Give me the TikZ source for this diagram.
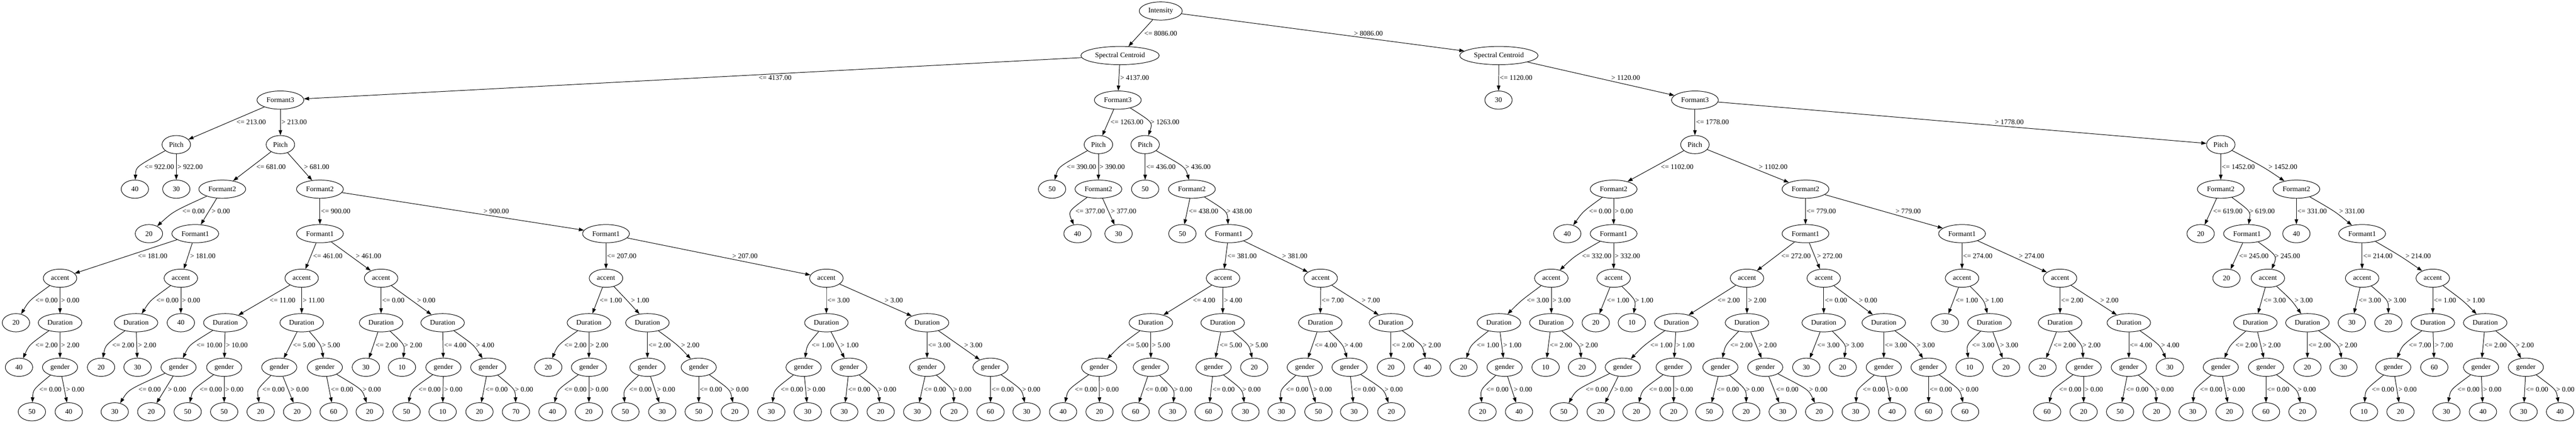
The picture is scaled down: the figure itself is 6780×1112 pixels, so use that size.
\documentclass[tikz,border=0pt]{standalone}
\usepackage{fontspec}
\setmainfont{Liberation Serif}
\usetikzlibrary{shapes.geometric,arrows.meta}
\newcommand\gvlabfont{\fontsize{14}{16}\selectfont}
\tikzset{
  nd/.style={draw, ellipse, line width=1pt, minimum width=54pt, minimum height=36pt,
    inner xsep=5.5pt, inner ysep=2pt, font=\gvlabfont},
  edge/.style={line width=1pt, -{Triangle[length=10pt,width=7pt]}},
  elab/.style={anchor=west, inner sep=0.5pt, font=\gvlabfont},
}
\newcommand\mkN[4]{%
  \expandafter\xdef\csname px@#1\endcsname{#2}%
  \expandafter\xdef\csname pl@#1\endcsname{#3}%
  \node[nd] (#1) at (#2,{29+117.2*#3}) {#4};}
% #1 parent, #2 left child, #3 right child, #4 threshold
\newcommand\mkS[4]{%
  \edef\gvxP{\csname px@#1\endcsname}%
  \edef\gvxA{\csname px@#2\endcsname}%
  \edef\gvxB{\csname px@#3\endcsname}%
  \pgfmathsetmacro\gvyM{29+117.2*\csname pl@#1\endcsname+58.6}%
  \pgfmathsetmacro\gvk{floor(log10(max(#4,1))+0.0001)+3}%
  \pgfmathsetmacro\gvwA{(1628+500*\gvk)*0.018667}%
  \pgfmathsetmacro\gvdA{abs(\gvxA-\gvxP)}%
  \pgfmathsetmacro\gvdB{abs(\gvxB-\gvxP)}%
  \pgfmathsetmacro\gvsA{\gvdA/117.2*8}%
  \pgfmathsetmacro\gvsB{\gvdB/117.2*8}%
  \pgfmathsetmacro\gvcA{(\gvxP+\gvxA)/2}%
  \pgfmathsetmacro\gvcB{(\gvxP+\gvxB)/2}%
  \pgfmathsetmacro\gvov{\gvcA+\gvsA+2+\gvwA+7-(\gvcB-\gvsB)}%
  \pgfmathsetmacro\gvoo{max(\gvov,0)}%
  \ifdim\gvdA pt<\gvdB pt
    \let\gvmA\gvcA
    \pgfmathsetmacro\gvmB{\gvcB+\gvoo}%
  \else
    \pgfmathsetmacro\gvmA{\gvcA-\gvoo}%
    \let\gvmB\gvcB
  \fi
  \pgfmathsetmacro\gvqA{\gvmA+(\gvmA-\gvcA)/3}%
  \pgfmathsetmacro\gvqB{\gvmB+(\gvmB-\gvcB)/3}%
  \pgfmathsetmacro\gvlA{\gvmA+\gvsA+2}%
  \pgfmathsetmacro\gvlB{\gvmB+\gvsB+2}%
  \draw[edge] (#1) .. controls (\gvqA,\gvyM) and (\gvqA,\gvyM) .. (#2);
  \node[elab] at (\gvlA,\gvyM) {<= #4};
  \draw[edge] (#1) .. controls (\gvqB,\gvyM) and (\gvqB,\gvyM) .. (#3);
  \node[elab] at (\gvlB,\gvyM) {> #4};}
\newcommand\mkG[3]{\mkS{#1}{#2}{#3}{0.00}}
\begin{document}
\begin{tikzpicture}[x=0.75pt,y=-0.75pt]
\useasboundingbox (0,0) rectangle (6780,1112);
% level 0-3
\mkN{n0}{3055}{0}{Intensity}
\mkN{n1}{2948}{1}{Spectral Centroid}
\mkN{n2}{3945}{1}{Spectral Centroid}
\mkN{n3}{738}{2}{Formant3}
\mkN{n4}{2942}{2}{Formant3}
\mkN{n5}{3944}{2}{30}
\mkN{n6}{4461}{2}{Formant3}
\mkN{n7}{464}{3}{Pitch}
\mkN{n8}{738}{3}{Pitch}
\mkN{n9}{2891}{3}{Pitch}
\mkN{n10}{3014}{3}{Pitch}
\mkN{n11}{4461}{3}{Pitch}
\mkN{n12}{5845}{3}{Pitch}
% level 4
\mkN{n13}{355}{4}{40}
\mkN{n14}{464}{4}{30}
\mkN{n15}{585}{4}{Formant2}
\mkN{n16}{842}{4}{Formant2}
\mkN{n17}{2769}{4}{50}
\mkN{n18}{2891}{4}{Formant2}
\mkN{n19}{3014}{4}{50}
\mkN{n20}{3137}{4}{Formant2}
\mkN{n21}{4247}{4}{Formant2}
\mkN{n22}{4752}{4}{Formant2}
\mkN{n23}{5845}{4}{Formant2}
\mkN{n24}{6044}{4}{Formant2}
% level 5
\mkN{n25}{392}{5}{20}
\mkN{n26}{514}{5}{Formant1}
\mkN{n27}{842}{5}{Formant1}
\mkN{n28}{1595}{5}{Formant1}
\mkN{n29}{2836}{5}{40}
\mkN{n30}{2944}{5}{30}
\mkN{n31}{3112}{5}{50}
\mkN{n32}{3234}{5}{Formant1}
\mkN{n33}{4125}{5}{40}
\mkN{n34}{4247}{5}{Formant1}
\mkN{n35}{4752}{5}{Formant1}
\mkN{n36}{5164}{5}{Formant1}
\mkN{n37}{5792}{5}{20}
\mkN{n38}{5914}{5}{Formant1}
\mkN{n39}{6044}{5}{40}
\mkN{n40}{6217}{5}{Formant1}
% level 6
\mkN{n41}{158}{6}{accent}
\mkN{n42}{476}{6}{accent}
\mkN{n43}{794}{6}{accent}
\mkN{n44}{1003}{6}{accent}
\mkN{n45}{1595}{6}{accent}
\mkN{n46}{2175}{6}{accent}
\mkN{n47}{3219}{6}{accent}
\mkN{n48}{3476}{6}{accent}
\mkN{n49}{4083}{6}{accent}
\mkN{n50}{4247}{6}{accent}
\mkN{n51}{4598}{6}{accent}
\mkN{n52}{4800}{6}{accent}
\mkN{n53}{5164}{6}{accent}
\mkN{n54}{5422}{6}{accent}
\mkN{n55}{5860}{6}{20}
\mkN{n56}{5969}{6}{accent}
\mkN{n57}{6217}{6}{accent}
\mkN{n58}{6403}{6}{accent}
% level 7
\mkN{n59}{42}{7}{20}
\mkN{n60}{158}{7}{Duration}
\mkN{n61}{358}{7}{Duration}
\mkN{n62}{476}{7}{40}
\mkN{n63}{593}{7}{Duration}
\mkN{n64}{794}{7}{Duration}
\mkN{n65}{1003}{7}{Duration}
\mkN{n66}{1165}{7}{Duration}
\mkN{n67}{1550}{7}{Duration}
\mkN{n68}{1704}{7}{Duration}
\mkN{n69}{2175}{7}{Duration}
\mkN{n70}{2440}{7}{Duration}
\mkN{n71}{3029}{7}{Duration}
\mkN{n72}{3218}{7}{Duration}
\mkN{n73}{3475}{7}{Duration}
\mkN{n74}{3661}{7}{Duration}
\mkN{n75}{3945}{7}{Duration}
\mkN{n76}{4083}{7}{Duration}
\mkN{n77}{4200}{7}{20}
\mkN{n78}{4295}{7}{10}
\mkN{n79}{4412}{7}{Duration}
\mkN{n80}{4598}{7}{Duration}
\mkN{n81}{4800}{7}{Duration}
\mkN{n82}{4958}{7}{Duration}
\mkN{n83}{5119}{7}{30}
\mkN{n84}{5236}{7}{Duration}
\mkN{n85}{5422}{7}{Duration}
\mkN{n86}{5603}{7}{Duration}
\mkN{n87}{5936}{7}{Duration}
\mkN{n88}{6073}{7}{Duration}
\mkN{n89}{6190}{7}{30}
\mkN{n90}{6286}{7}{20}
\mkN{n91}{6403}{7}{Duration}
\mkN{n92}{6541}{7}{Duration}
% level 8
\mkN{n93}{50}{8}{40}
\mkN{n94}{158}{8}{gender}
\mkN{n95}{266}{8}{20}
\mkN{n96}{362}{8}{30}
\mkN{n97}{470}{8}{gender}
\mkN{n98}{590}{8}{gender}
\mkN{n99}{735}{8}{gender}
\mkN{n100}{855}{8}{gender}
\mkN{n101}{963}{8}{30}
\mkN{n102}{1058}{8}{10}
\mkN{n103}{1167}{8}{gender}
\mkN{n104}{1285}{8}{gender}
\mkN{n105}{1443}{8}{20}
\mkN{n106}{1550}{8}{gender}
\mkN{n107}{1704}{8}{gender}
\mkN{n108}{1839}{8}{gender}
\mkN{n109}{2115}{8}{gender}
\mkN{n110}{2235}{8}{gender}
\mkN{n111}{2440}{8}{gender}
\mkN{n112}{2607}{8}{gender}
\mkN{n113}{2893}{8}{gender}
\mkN{n114}{3029}{8}{gender}
\mkN{n115}{3194}{8}{gender}
\mkN{n116}{3301}{8}{20}
\mkN{n117}{3434}{8}{gender}
\mkN{n118}{3552}{8}{gender}
\mkN{n119}{3661}{8}{20}
\mkN{n120}{3757}{8}{40}
\mkN{n121}{3852}{8}{20}
\mkN{n122}{3960}{8}{gender}
\mkN{n123}{4068}{8}{10}
\mkN{n124}{4164}{8}{20}
\mkN{n125}{4271}{8}{gender}
\mkN{n126}{4405}{8}{gender}
\mkN{n127}{4528}{8}{gender}
\mkN{n128}{4646}{8}{gender}
\mkN{n129}{4754}{8}{30}
\mkN{n130}{4850}{8}{20}
\mkN{n131}{4958}{8}{gender}
\mkN{n132}{5076}{8}{gender}
\mkN{n133}{5184}{8}{10}
\mkN{n134}{5280}{8}{20}
\mkN{n135}{5376}{8}{20}
\mkN{n136}{5484}{8}{gender}
\mkN{n137}{5603}{8}{gender}
\mkN{n138}{5711}{8}{30}
\mkN{n139}{5845}{8}{gender}
\mkN{n140}{5964}{8}{gender}
\mkN{n141}{6073}{8}{20}
\mkN{n142}{6168}{8}{30}
\mkN{n143}{6299}{8}{gender}
\mkN{n144}{6407}{8}{60}
\mkN{n145}{6530}{8}{gender}
\mkN{n146}{6648}{8}{gender}
% level 9
\mkN{n147}{84}{9}{50}
\mkN{n148}{181}{9}{40}
\mkN{n149}{302}{9}{30}
\mkN{n150}{398}{9}{20}
\mkN{n151}{494}{9}{50}
\mkN{n152}{590}{9}{50}
\mkN{n153}{686}{9}{20}
\mkN{n154}{782}{9}{20}
\mkN{n155}{878}{9}{60}
\mkN{n156}{973}{9}{20}
\mkN{n157}{1070}{9}{50}
\mkN{n158}{1165}{9}{10}
\mkN{n159}{1262}{9}{20}
\mkN{n160}{1358}{9}{70}
\mkN{n161}{1454}{9}{40}
\mkN{n162}{1550}{9}{20}
\mkN{n163}{1646}{9}{50}
\mkN{n164}{1743}{9}{30}
\mkN{n165}{1839}{9}{50}
\mkN{n166}{1934}{9}{20}
\mkN{n167}{2030}{9}{30}
\mkN{n168}{2126}{9}{30}
\mkN{n169}{2222}{9}{30}
\mkN{n170}{2318}{9}{20}
\mkN{n171}{2414}{9}{30}
\mkN{n172}{2511}{9}{20}
\mkN{n173}{2607}{9}{60}
\mkN{n174}{2702}{9}{30}
\mkN{n175}{2798}{9}{40}
\mkN{n176}{2894}{9}{20}
\mkN{n177}{2989}{9}{60}
\mkN{n178}{3086}{9}{30}
\mkN{n179}{3181}{9}{60}
\mkN{n180}{3278}{9}{30}
\mkN{n181}{3373}{9}{30}
\mkN{n182}{3470}{9}{50}
\mkN{n183}{3564}{9}{30}
\mkN{n184}{3662}{9}{20}
\mkN{n185}{3902}{9}{20}
\mkN{n186}{3998}{9}{40}
\mkN{n187}{4116}{9}{50}
\mkN{n188}{4213}{9}{20}
\mkN{n189}{4307}{9}{20}
\mkN{n190}{4405}{9}{20}
\mkN{n191}{4499}{9}{50}
\mkN{n192}{4596}{9}{20}
\mkN{n193}{4692}{9}{30}
\mkN{n194}{4788}{9}{20}
\mkN{n195}{4884}{9}{30}
\mkN{n196}{4980}{9}{40}
\mkN{n197}{5076}{9}{60}
\mkN{n198}{5172}{9}{60}
\mkN{n199}{5388}{9}{60}
\mkN{n200}{5484}{9}{20}
\mkN{n201}{5580}{9}{50}
\mkN{n202}{5676}{9}{20}
\mkN{n203}{5771}{9}{30}
\mkN{n204}{5868}{9}{20}
\mkN{n205}{5964}{9}{60}
\mkN{n206}{6060}{9}{20}
\mkN{n207}{6222}{9}{10}
\mkN{n208}{6318}{9}{20}
\mkN{n209}{6439}{9}{30}
\mkN{n210}{6535}{9}{40}
\mkN{n211}{6642}{9}{30}
\mkN{n212}{6738}{9}{40}
% edges
\mkS{n0}{n1}{n2}{8086.00}
\mkS{n1}{n3}{n4}{4137.00}
\mkS{n2}{n5}{n6}{1120.00}
\mkS{n3}{n7}{n8}{213.00}
\mkS{n4}{n9}{n10}{1263.00}
\mkS{n6}{n11}{n12}{1778.00}
\mkS{n7}{n13}{n14}{922.00}
\mkS{n8}{n15}{n16}{681.00}
\mkS{n9}{n17}{n18}{390.00}
\mkS{n10}{n19}{n20}{436.00}
\mkS{n11}{n21}{n22}{1102.00}
\mkS{n12}{n23}{n24}{1452.00}
\mkS{n15}{n25}{n26}{0.00}
\mkS{n16}{n27}{n28}{900.00}
\mkS{n18}{n29}{n30}{377.00}
\mkS{n20}{n31}{n32}{438.00}
\mkS{n21}{n33}{n34}{0.00}
\mkS{n22}{n35}{n36}{779.00}
\mkS{n23}{n37}{n38}{619.00}
\mkS{n24}{n39}{n40}{331.00}
\mkS{n26}{n41}{n42}{181.00}
\mkS{n27}{n43}{n44}{461.00}
\mkS{n28}{n45}{n46}{207.00}
\mkS{n32}{n47}{n48}{381.00}
\mkS{n34}{n49}{n50}{332.00}
\mkS{n35}{n51}{n52}{272.00}
\mkS{n36}{n53}{n54}{274.00}
\mkS{n38}{n55}{n56}{245.00}
\mkS{n40}{n57}{n58}{214.00}
\mkS{n41}{n59}{n60}{0.00}
\mkS{n42}{n61}{n62}{0.00}
\mkS{n43}{n63}{n64}{11.00}
\mkS{n44}{n65}{n66}{0.00}
\mkS{n45}{n67}{n68}{1.00}
\mkS{n46}{n69}{n70}{3.00}
\mkS{n47}{n71}{n72}{4.00}
\mkS{n48}{n73}{n74}{7.00}
\mkS{n49}{n75}{n76}{3.00}
\mkS{n50}{n77}{n78}{1.00}
\mkS{n51}{n79}{n80}{2.00}
\mkS{n52}{n81}{n82}{0.00}
\mkS{n53}{n83}{n84}{1.00}
\mkS{n54}{n85}{n86}{2.00}
\mkS{n56}{n87}{n88}{3.00}
\mkS{n57}{n89}{n90}{3.00}
\mkS{n58}{n91}{n92}{1.00}
\mkS{n60}{n93}{n94}{2.00}
\mkS{n61}{n95}{n96}{2.00}
\mkS{n63}{n97}{n98}{10.00}
\mkS{n64}{n99}{n100}{5.00}
\mkS{n65}{n101}{n102}{2.00}
\mkS{n66}{n103}{n104}{4.00}
\mkS{n67}{n105}{n106}{2.00}
\mkS{n68}{n107}{n108}{2.00}
\mkS{n69}{n109}{n110}{1.00}
\mkS{n70}{n111}{n112}{3.00}
\mkS{n71}{n113}{n114}{5.00}
\mkS{n72}{n115}{n116}{5.00}
\mkS{n73}{n117}{n118}{4.00}
\mkS{n74}{n119}{n120}{2.00}
\mkS{n75}{n121}{n122}{1.00}
\mkS{n76}{n123}{n124}{2.00}
\mkS{n79}{n125}{n126}{1.00}
\mkS{n80}{n127}{n128}{2.00}
\mkS{n81}{n129}{n130}{3.00}
\mkS{n82}{n131}{n132}{3.00}
\mkS{n84}{n133}{n134}{3.00}
\mkS{n85}{n135}{n136}{2.00}
\mkS{n86}{n137}{n138}{4.00}
\mkS{n87}{n139}{n140}{2.00}
\mkS{n88}{n141}{n142}{2.00}
\mkS{n91}{n143}{n144}{7.00}
\mkS{n92}{n145}{n146}{2.00}
\mkG{n94}{n147}{n148}
\mkG{n97}{n149}{n150}
\mkG{n98}{n151}{n152}
\mkG{n99}{n153}{n154}
\mkG{n100}{n155}{n156}
\mkG{n103}{n157}{n158}
\mkG{n104}{n159}{n160}
\mkG{n106}{n161}{n162}
\mkG{n107}{n163}{n164}
\mkG{n108}{n165}{n166}
\mkG{n109}{n167}{n168}
\mkG{n110}{n169}{n170}
\mkG{n111}{n171}{n172}
\mkG{n112}{n173}{n174}
\mkG{n113}{n175}{n176}
\mkG{n114}{n177}{n178}
\mkG{n115}{n179}{n180}
\mkG{n117}{n181}{n182}
\mkG{n118}{n183}{n184}
\mkG{n122}{n185}{n186}
\mkG{n125}{n187}{n188}
\mkG{n126}{n189}{n190}
\mkG{n127}{n191}{n192}
\mkG{n128}{n193}{n194}
\mkG{n131}{n195}{n196}
\mkG{n132}{n197}{n198}
\mkG{n136}{n199}{n200}
\mkG{n137}{n201}{n202}
\mkG{n139}{n203}{n204}
\mkG{n140}{n205}{n206}
\mkG{n143}{n207}{n208}
\mkG{n145}{n209}{n210}
\mkG{n146}{n211}{n212}
\end{tikzpicture}
\end{document}
